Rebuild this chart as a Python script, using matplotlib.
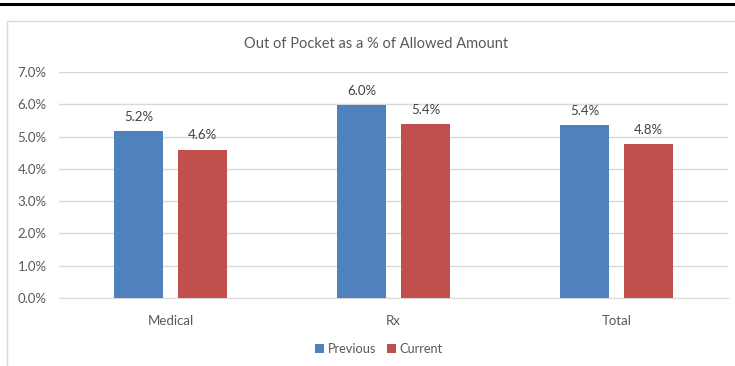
import matplotlib
matplotlib.use("Agg")
import matplotlib.pyplot as plt
from matplotlib.patches import Rectangle
from matplotlib.lines import Line2D
import numpy as np

categories = ["Medical", "Rx", "Total"]
previous = [5.17, 5.97, 5.36]
current = [4.59, 5.39, 4.77]
series_names = ["Previous", "Current"]
yticks = [0, 1, 2, 3, 4, 5, 6, 7]

BLUE = "#4F81BD"
RED = "#C0504D"
TEXT = "#595959"
GRID = "#D9D9D9"

plt.rcParams["font.family"] = ["Lato", "DejaVu Sans"]

W, H = 735, 366
fig = plt.figure(figsize=(W / 100, H / 100), dpi=100)

# page rule and chart frame
fig.add_artist(Line2D([0, 1], [1 - 4 / H, 1 - 4 / H], color="black", lw=2.2))
fig.add_artist(Rectangle((7 / W, -0.05), 1.1, 1 - 21 / H + 0.05, fill=False,
                         edgecolor="#D9D9D9", lw=1.0))

ax = fig.add_axes([59 / W, 1 - 298 / H, (728 - 59) / W, (298 - 72) / H])
x = np.arange(len(categories))
bw = 0.224
off = 0.1435
b1 = ax.bar(x - off, previous, bw, color=BLUE, label=series_names[0], zorder=3)
b2 = ax.bar(x + off, current, bw, color=RED, label=series_names[1], zorder=3)

for bars in (b1, b2):
    for r in bars:
        ax.annotate(f"{r.get_height():.1f}%", (r.get_x() + r.get_width() / 2, r.get_height()),
                    xytext=(0, 6), textcoords="offset points", ha="center", va="bottom",
                    fontsize=9.5, color="#404040")

ax.set_xlim(-0.5, len(categories) - 0.5)
ax.set_ylim(0, 7)
ax.set_yticks(yticks)
ax.set_yticklabels([f"{v:.1f}%" for v in yticks])
ax.set_xticks(x)
ax.set_xticklabels(categories)
ax.tick_params(axis="both", length=0, labelsize=9.5, colors=TEXT)
ax.tick_params(axis="y", pad=9)
ax.tick_params(axis="x", pad=12)
ax.grid(axis="y", color=GRID, lw=1.0, zorder=0)
for s in ["top", "right", "left"]:
    ax.spines[s].set_visible(False)
ax.spines["bottom"].set_color(GRID)

fig.text(376 / W, 1 - 44 / H, "Out of Pocket as a % of Allowed Amount", ha="center",
         va="center", fontsize=10.5, color=TEXT)

leg = fig.legend(handles=[b1, b2], labels=series_names, loc="center",
                 bbox_to_anchor=(379 / W, 1 - 349 / H), ncol=2, frameon=False,
                 fontsize=9.2, handlelength=0.7, handleheight=0.7, handletextpad=0.25,
                 columnspacing=0.9)
for t in leg.get_texts():
    t.set_color(TEXT)

fig.savefig("out.png", dpi=100)
